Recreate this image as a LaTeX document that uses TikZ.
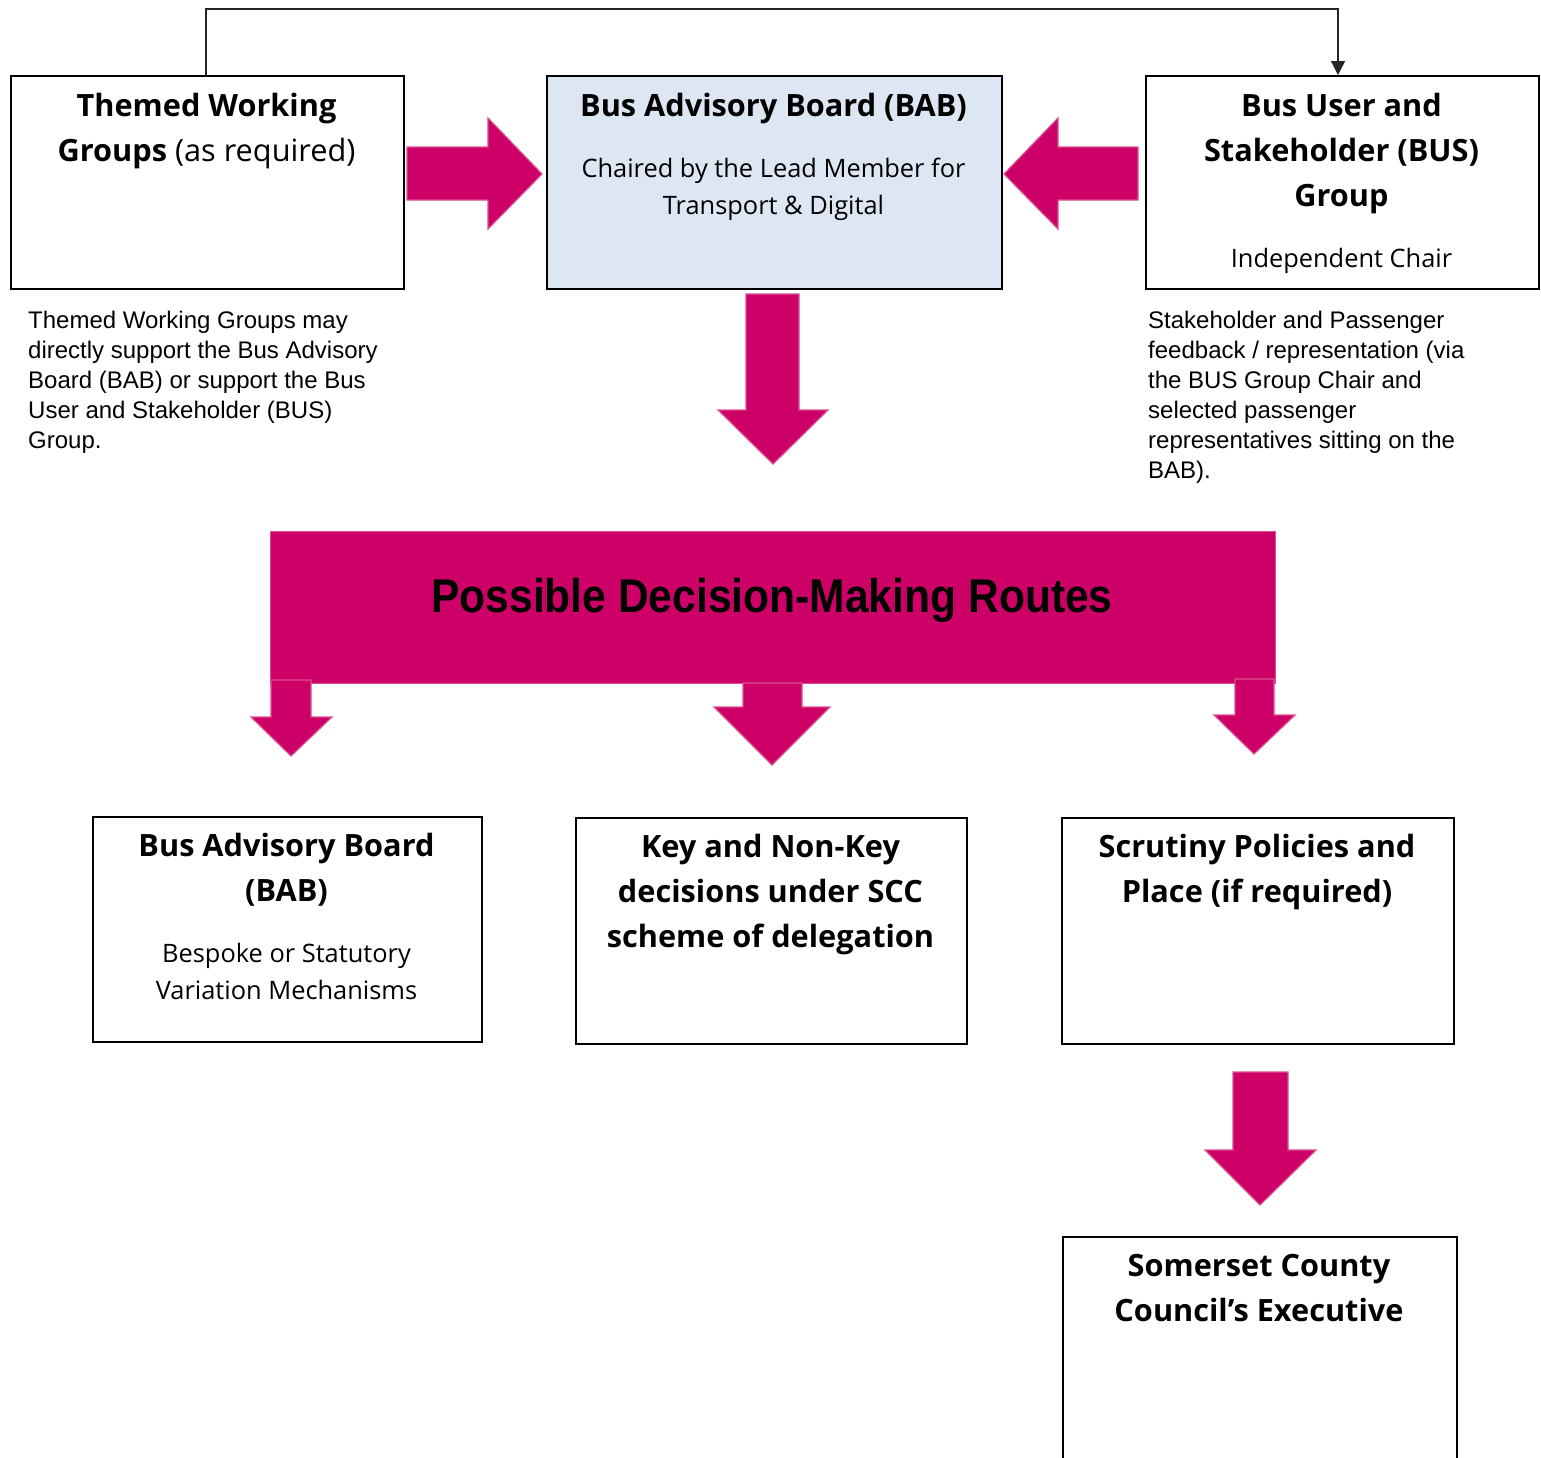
\documentclass[tikz,border=0pt]{standalone}
\usepackage{fontspec}
\setmainfont{Open Sans}
\newfontfamily\arialf{Liberation Sans}
\newfontfamily\titlef{Liberation Sans}[FakeStretch=0.9]
\usetikzlibrary{arrows.meta,calc}
\definecolor{mag}{RGB}{204,0,102}
\definecolor{magedge}{RGB}{218,80,145}
\definecolor{babfill}{RGB}{220,231,243}
\newcommand{\mlc}[1]{\begin{tabular}[t]{@{}c@{}}#1\end{tabular}}
\newcommand{\mll}[1]{\begin{tabular}[t]{@{}l@{}}#1\end{tabular}}
\tikzset{
  box/.style={draw=black, line width=2pt, inner sep=0pt, anchor=north west},
  hd/.style={anchor=base, inner sep=0pt, font=\fontsize{30.7}{45}\selectfont\bfseries},
  sub/.style={anchor=base, inner sep=0pt, font=\fontsize{25.4}{37.5}\selectfont},
  note/.style={anchor=base west, inner sep=0pt, font=\arialf\fontsize{24}{30}\selectfont},
  blk/.style={fill=mag, draw=magedge, line width=1.2pt, line join=miter},
  thin/.style={draw=black!85, line width=1.3pt}
}
\begin{document}
\begin{tikzpicture}[x=1pt,y=-1pt]
\clip (0,0) rectangle (1541,1457);
\fill[white] (0,0) rectangle (1541,1457);

% boxes
\node[box, minimum width=393pt, minimum height=213pt] (tw) at (10,75) {};
\node[box, fill=babfill, minimum width=455pt, minimum height=213pt] (bab) at (546,75) {};
\node[box, minimum width=393pt, minimum height=213pt] (bus) at (1145,75) {};
\node[box, minimum width=389pt, minimum height=225pt] (bab2) at (92,816) {};
\node[box, minimum width=391pt, minimum height=226pt] (key) at (575,817) {};
\node[box, minimum width=392pt, minimum height=226pt] (scr) at (1061,817) {};
\node[box, minimum width=394pt, minimum height=300pt] (exe) at (1062,1236) {};

% box texts
\node[hd] (twt) at (206.5,116) {\mlc{Themed Working\\Groups \mdseries(as required)}};
\node[hd] (babt) at (773.5,116) {\mlc{Bus Advisory Board (BAB)}};
\node[sub] (babs) at (773.5,177) {\mlc{Chaired by the Lead Member for\\Transport \& Digital}};
\node[hd] (bust) at (1341.5,116) {\mlc{Bus User and\\Stakeholder (BUS)\\Group}};
\node[sub] (buss) at (1341.5,267) {\mlc{Independent Chair}};
\node[hd] (bab2t) at (286.5,856) {\mlc{Bus Advisory Board\\(BAB)}};
\node[sub] (bab2s) at (286.5,962) {\mlc{Bespoke or Statutory\\Variation Mechanisms}};
\node[hd] (keyt) at (770.5,857) {\mlc{Key and Non-Key\\decisions under SCC\\scheme of delegation}};
\node[hd] (scrt) at (1257,857) {\mlc{Scrutiny Policies and\\Place (if required)}};
\node[hd] (exet) at (1259,1276) {\mlc{Somerset County\\Council’s Executive}};

% notes
\node[note] (twn) at (28,328) {\mll{Themed Working Groups may\\directly support the Bus Advisory\\Board (BAB) or support the Bus\\User and Stakeholder (BUS)\\Group.}};
\node[note] (busn) at (1148,328) {\mll{Stakeholder and Passenger\\feedback / representation (via\\the BUS Group Chair and\\selected passenger\\representatives sitting on the\\BAB).}};

% thin connector
\coordinate (topline) at (0,9);
\coordinate (twtop) at ([xshift=-1.5pt]tw.north);
\coordinate (bustop) at ([xshift=-4.5pt]bus.north);
\draw[thin, -{Triangle[length=14pt,width=14pt]}] (twtop) |- (bustop |- topline) -- (bustop);

% block arrows
\draw[blk] (407,147) -- (488,147) -- (488,118) -- (542,174) -- (488,229) -- (488,200) -- (407,200) -- cycle;
\draw[blk] (1138,147) -- (1058,147) -- (1058,118) -- (1004,174) -- (1058,229) -- (1058,200) -- (1138,200) -- cycle;
\draw[blk] (746,294) -- (799,294) -- (799,410) -- (828,410) -- (773,464) -- (718,410) -- (746,410) -- cycle;

% decision routes banner
\node[fill=mag, draw=magedge, line width=1pt, anchor=north west, minimum width=1005pt, minimum height=152pt, inner sep=0pt] (routes) at (270,531) {};
\node[anchor=base, inner sep=0pt, font=\titlef\fontsize{47.3}{47.3}\selectfont\bfseries] (routest) at (772,612) {Possible Decision-Making Routes};

\draw[blk] (271,680) -- (311,680) -- (311,717) -- (332,717) -- (291,756) -- (251,717) -- (271,717) -- cycle;
\draw[blk] (743,683) -- (802,683) -- (802,707) -- (830,707) -- (772,765) -- (714,707) -- (743,707) -- cycle;
\draw[blk] (1235,679) -- (1274,679) -- (1274,715) -- (1295,715) -- (1254,754) -- (1214,715) -- (1235,715) -- cycle;
\draw[blk] (1233,1072) -- (1288,1072) -- (1288,1150) -- (1316,1150) -- (1260,1205) -- (1205,1150) -- (1233,1150) -- cycle;
\end{tikzpicture}
\end{document}
